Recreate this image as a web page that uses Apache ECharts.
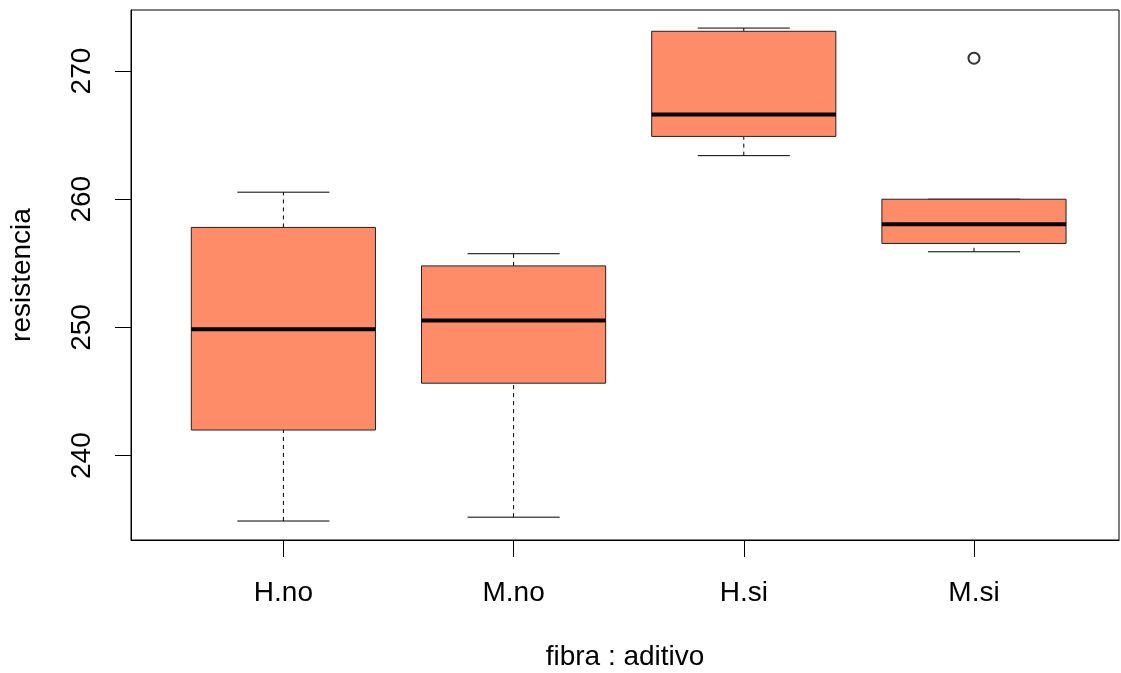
<!DOCTYPE html>
<html>
<head>
<meta charset="utf-8">
<script src="https://cdn.jsdelivr.net/npm/echarts@6/dist/echarts.min.js"></script>
<style>
html,body{margin:0;padding:0;background:#fff;}
#chart{width:1121px;height:673px;}
</style>
</head>
<body>
<div id="chart"></div>
<script>
// ---- data ----
var categories = ['H.no', 'M.no', 'H.si', 'M.si'];
var lowerWhisker = [234.9, 235.2, 263.4, 255.9];
var q1 = [242.0, 245.65, 264.9, 256.55];
var median = [249.85, 250.55, 266.6, 258.05];
var q3 = [257.8, 254.8, 273.1, 260.0];
var upperWhisker = [260.55, 255.75, 273.35, 260.0];
var outlierCategory = ['M.si'];
var outlierValue = [271.0];
var yTicks = [240, 250, 260, 270];

var FONT = "'Liberation Sans', Arial, sans-serif";
var FILL = '#FF8C69';

var boxData = categories.map(function (c, i) {
  return [i + 1, lowerWhisker[i], q1[i], median[i], q3[i], upperWhisker[i]];
});
var outData = outlierCategory.map(function (c, i) {
  return [categories.indexOf(c) + 1, outlierValue[i]];
});

function renderBox(params, api) {
  var x = api.value(0);
  var pLow = api.coord([x, api.value(1)]);
  var pQ1 = api.coord([x, api.value(2)]);
  var pMed = api.coord([x, api.value(3)]);
  var pQ3 = api.coord([x, api.value(4)]);
  var pHigh = api.coord([x, api.value(5)]);
  var boxW = api.size([0.8, 0])[0];
  var capW = boxW / 2;
  var cx = pMed[0];
  var black = '#000';
  return {
    type: 'group',
    children: [
      { type: 'line', shape: { x1: cx, y1: pQ3[1], x2: cx, y2: pHigh[1] },
        style: { stroke: black, lineWidth: 1, lineDash: [4, 4] } },
      { type: 'line', shape: { x1: cx, y1: pLow[1], x2: cx, y2: pQ1[1] },
        style: { stroke: black, lineWidth: 1, lineDash: [4, 4] } },
      { type: 'line', shape: { x1: cx - capW / 2, y1: pHigh[1], x2: cx + capW / 2, y2: pHigh[1] },
        style: { stroke: black, lineWidth: 1 } },
      { type: 'line', shape: { x1: cx - capW / 2, y1: pLow[1], x2: cx + capW / 2, y2: pLow[1] },
        style: { stroke: black, lineWidth: 1 } },
      { type: 'rect', shape: { x: cx - boxW / 2, y: pQ3[1], width: boxW, height: pQ1[1] - pQ3[1] },
        style: { fill: FILL, stroke: '#222', lineWidth: 1 } },
      { type: 'line', shape: { x1: cx - boxW / 2, y1: pMed[1], x2: cx + boxW / 2, y2: pMed[1] },
        style: { stroke: black, lineWidth: 4 } }
    ]
  };
}

var chart = echarts.init(document.getElementById('chart'), null, { renderer: 'canvas' });
chart.setOption({
  animation: false,
  backgroundColor: '#fff',
  textStyle: { fontFamily: FONT },
  grid: {
    left: 131, top: 10, width: 988, height: 530,
    containLabel: false,
    outerBoundsMode: 'none',
    show: true, borderColor: '#000', borderWidth: 1, backgroundColor: 'transparent'
  },
  xAxis: {
    type: 'value',
    min: 0.338, max: 4.63,
    name: 'fibra : aditivo',
    nameLocation: 'middle',
    nameGap: 103,
    nameTextStyle: { fontSize: 28, color: '#000', fontFamily: FONT },
    splitLine: { show: false },
    axisLine: { show: true, lineStyle: { color: '#000', width: 1 } },
    axisTick: { show: true, length: 17, customValues: [1, 2, 3, 4], lineStyle: { color: '#000', width: 1 } },
    axisLabel: {
      customValues: [1, 2, 3, 4],
      margin: 39,
      fontSize: 28, color: '#000', fontFamily: FONT,
      formatter: function (v) { return categories[Math.round(v) - 1]; }
    }
  },
  yAxis: {
    type: 'value',
    min: 233.42, max: 274.76,
    name: 'resistencia',
    nameLocation: 'middle',
    nameGap: 95,
    nameRotate: 90,
    nameTextStyle: { fontSize: 28, color: '#000', fontFamily: FONT },
    splitLine: { show: false },
    axisLine: { show: true, lineStyle: { color: '#000', width: 1 } },
    axisTick: { show: true, length: 16, customValues: yTicks, lineStyle: { color: '#000', width: 1 } },
    axisLabel: {
      customValues: yTicks,
      rotate: 90,
      margin: 35,
      fontSize: 28, color: '#000', fontFamily: FONT
    }
  },
  series: [
    {
      type: 'custom',
      renderItem: renderBox,
      data: boxData,
      encode: { x: 0, y: [1, 2, 3, 4, 5] },
      clip: false,
      z: 2
    },
    {
      type: 'scatter',
      data: outData,
      symbol: 'emptyCircle',
      symbolSize: 11,
      itemStyle: { color: '#000', borderColor: '#000', borderWidth: 1 },
      z: 3
    }
  ]
});
</script>
</body>
</html>
